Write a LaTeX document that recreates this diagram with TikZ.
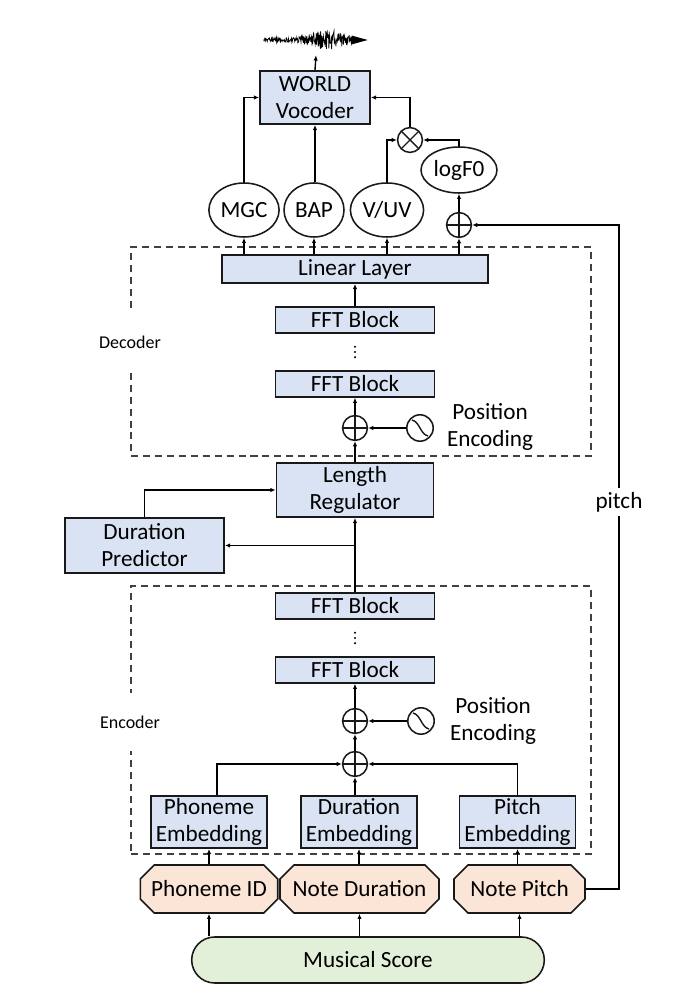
\documentclass[tikz,border=0pt]{standalone}
\usepackage{fontspec}
\setmainfont{Carlito}
\usepackage{amssymb}
\usepackage{amsmath}
\usepackage{tikz}
\usetikzlibrary{positioning,arrows.meta,shapes.geometric,shapes.misc,calc}
\definecolor{BlockBlue}{HTML}{DAE3F3}
\definecolor{InputPeach}{HTML}{FBE5D6}
\definecolor{ScoreGreen}{HTML}{E2F0D9}

\begin{document}
\begin{tikzpicture}[
  every node/.style={font=\fontsize{16.5}{19.2}\selectfont},
  blk/.style={draw=black!90, line width=1.3pt, fill=BlockBlue, align=center,
              inner sep=1pt},
  fft/.style={blk, minimum width=3.975cm, minimum height=0.64cm},
  emb/.style={blk, minimum width=2.9cm, minimum height=1.3cm},
  feat/.style={draw=black!90, line width=1.1pt, fill=white, ellipse, inner sep=1pt,
               minimum height=1.35cm},
  inp/.style={draw=black!90, line width=1.1pt, fill=InputPeach, chamfered rectangle,
              chamfered rectangle xsep=0.3cm, minimum height=1.2cm, inner sep=1pt},
  addop/.style={draw=black!90, line width=1.1pt, circle, minimum size=0.62cm, inner sep=0pt,
                path picture={\draw[line width=1pt]
                  (path picture bounding box.north) -- (path picture bounding box.south)
                  (path picture bounding box.west) -- (path picture bounding box.east);}},
  mulop/.style={draw=black!90, line width=1.1pt, circle, minimum size=0.62cm, inner sep=0pt,
                path picture={\draw[line width=1pt]
                  (path picture bounding box.north west) -- (path picture bounding box.south east)
                  (path picture bounding box.north east) -- (path picture bounding box.south west);}},
  posenc/.style={draw=black!90, line width=1.1pt, circle, minimum size=0.66cm, inner sep=0pt,
                 path picture={\draw[line width=1pt]
                   ([shift={(-0.2,0.2)}]path picture bounding box.center)
                   .. controls +(0.2,-0.05) and +(-0.2,0.05) ..
                   ([shift={(0.2,-0.2)}]path picture bounding box.center);}},
  grp/.style={draw=black!75, line width=0.8pt, dash pattern=on 5pt off 3.5pt},
  grplbl/.style={font=\fontsize{12.8}{15}\selectfont, fill=white, minimum height=1.45cm,
                 inner sep=1pt},
  vdot/.style={minimum width=0.12cm, minimum height=0.36cm, inner sep=0pt,
               path picture={\fill (path picture bounding box.center) circle (0.85pt)
                 ([yshift=0.13cm]path picture bounding box.center) circle (0.85pt)
                 ([yshift=-0.13cm]path picture bounding box.center) circle (0.85pt);}},
  arr/.style={draw=black, line width=1pt, -{Latex[length=1.3mm,width=1.1mm]}},
  lbl/.style={align=center, inner sep=1pt}]

  \useasboundingbox (0,0) rectangle (17.3,24.9);

  % ===== group frames =====
  \node[grp, minimum width=11.5cm, minimum height=5.225cm] (dec) at (9.025,16.1125) {};
  \node[grp, minimum width=11.5cm, minimum height=6.7cm]   (enc) at (9.025,6.9) {};
  \node[grplbl] (declbl) at (3.25,16.35) {Decoder};
  \node[grplbl] (enclbl) at (3.25,6.85)  {Encoder};

  % ===== output side =====
  \node[minimum width=2.6cm, minimum height=0.75cm, inner sep=0pt] (wave) at (7.9,23.9) {};
  \pgfmathsetseed{7}
  \draw[line width=0.5pt, shift={(wave.west)}]
        plot[domain=0:2.25, samples=230] (\x,{(0.05+0.19*exp(-(\x-1.6)*(\x-1.6)/0.3))*rand});
  \fill[shift={(wave.west)}] (2.2,0.11) -- (2.6,0) -- (2.2,-0.11) -- cycle;
  \node[blk, minimum width=2.75cm, minimum height=1.325cm] (voc) at (7.875,22.4625) {WORLD\\ Vocoder};

  \node[feat, minimum width=1.45cm] (mgc) at (6.1,19.65)   {MGC};
  \node[feat, minimum width=1.5cm]  (bap) at (7.85,19.65)  {BAP};
  \node[feat, minimum width=1.75cm] (vuv) at (9.675,19.65) {V/UV};
  \node[feat, minimum width=1.8cm, minimum height=1.15cm] (lf0) at (11.475,20.65) {logF0};
  \node[mulop] (mul)  at (10.25,21.4) {};
  \node[addop] (addp) at (11.475,19.275) {};

  % ===== decoder =====
  \node[blk, minimum width=6.65cm, minimum height=0.7cm] (lin) at (8.875,18.175) {Linear Layer};
  \node[fft] (ffd1) at (8.875,16.9) {FFT Block};
  \node[vdot] (dotd) at (8.875,16.1) {};
  \node[fft] (ffd2) at (8.875,15.3) {FFT Block};
  \node[addop]  (addd) at (8.875,14.2) {};
  \node[posenc] (pend) at (10.5,14.2) {};
  \node[lbl] (petd) at (12.25,14.225) {Position\\ Encoding};

  % ===== length regulation =====
  \node[blk, minimum width=3.925cm, minimum height=1.35cm] (lr) at (8.875,12.65) {Length\\ Regulator};
  \node[blk, minimum width=3.975cm, minimum height=1.375cm] (dp) at (3.6125,11.2625) {Duration\\ Predictor};

  % ===== encoder =====
  \node[fft] (ffe1) at (8.875,9.75) {FFT Block};
  \node[vdot] (dote) at (8.875,8.95) {};
  \node[fft] (ffe2) at (8.875,8.15) {FFT Block};
  \node[addop]  (adde1) at (8.875,6.875) {};
  \node[posenc] (pene)  at (10.525,6.875) {};
  \node[lbl] (pete) at (12.325,6.875) {Position\\ Encoding};
  \node[addop]  (adde2) at (8.875,5.8) {};
  \node[emb] (phemb) at (5.225,4.35)   {Phoneme\\ Embedding};
  \node[emb] (duemb) at (8.975,4.35)   {Duration\\ Embedding};
  \node[emb] (piemb) at (12.9375,4.35) {Pitch\\ Embedding};

  % ===== inputs =====
  \node[inp, minimum width=3.15cm]  (phid) at (5.225,2.675)   {Phoneme ID};
  \node[inp, minimum width=3.975cm] (ndur) at (8.9875,2.675)  {Note Duration};
  \node[inp, minimum width=3.275cm] (npit) at (12.9875,2.675) {Note Pitch};
  \node[draw=black!90, line width=1.1pt, fill=ScoreGreen, rounded rectangle,
        minimum width=9.05cm, minimum height=1.15cm] (score) at (9.2,0.9) {Musical Score};
  \coordinate (pcol) at (15.475,2.675);

  % ===== connectors: inputs -> encoder =====
  \draw[arr] (score.north -| phid) -- (phid.south);
  \draw[arr] (score.north -| ndur) -- (ndur.south);
  \draw[arr] (score.north -| npit) -- (npit.south);
  \draw[arr] (phid.north) -- (phemb.south);
  \draw[arr] (ndur.north -| duemb) -- (duemb.south);
  \draw[arr] (npit.north -| piemb) -- (piemb.south);
  \draw[arr] ([xshift=0.2cm]phemb.north) |- (adde2.west);
  \draw[arr] (piemb.north) |- (adde2.east);
  \draw[arr] (adde2.south |- duemb.north) -- (adde2.south);
  \draw[arr] (adde2.north) -- (adde1.south);
  \draw[arr] (pene.west) -- (adde1.east);
  \draw[arr] (adde1.north) -- (ffe2.south);

  % ===== connectors: encoder -> decoder =====
  \draw[arr] (ffe1.north) -- (lr.south);
  \draw[arr] (ffe1.north |- dp.east) -- (dp.east);
  \draw[arr] (dp.north) |- (lr.west);
  \draw[arr] (lr.north) -- (addd.south);
  \draw[arr] (pend.west) -- (addd.east);
  \draw[arr] (addd.north) -- (ffd2.south);
  \draw[arr] (ffd1.north) -- (lin.south);

  % ===== connectors: decoder -> vocoder =====
  \draw[arr] (lin.north -| mgc) -- (mgc.south);
  \draw[arr] (lin.north -| bap) -- (bap.south);
  \draw[arr] (lin.north -| vuv) -- (vuv.south);
  \draw[arr] (lin.north -| addp) -- (addp.south);
  \draw[arr] (npit.east) -- (pcol) |- (addp.east);
  \node[fill=white, inner sep=2pt, minimum height=0.7cm] (pitlbl) at (15.475,12.35) {pitch};
  \draw[arr] (addp.north) -- (lf0.south);
  \draw[arr] (vuv.north) |- (mul.west);
  \draw[arr] (lf0.north) |- (mul.east);
  \draw[arr] (mul.north) |- (voc.east);
  \draw[arr] (mgc.north) |- (voc.west);
  \draw[arr] (bap.north -| voc) -- (voc.south);
  \draw[arr] (voc.north) -- (wave.south);

\end{tikzpicture}
\end{document}
